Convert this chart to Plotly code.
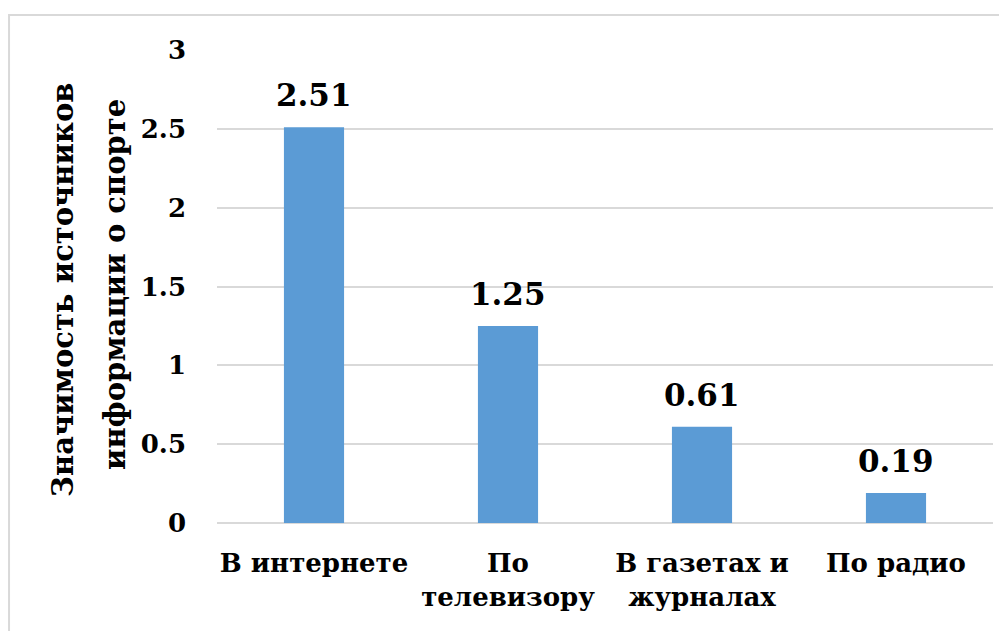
import plotly.graph_objects as go

categories = ["В интернете", "По<br>телевизору", "В газетах и<br>журналах", "По радио"]
values = [2.51, 1.25, 0.61, 0.19]
value_labels = ["2.51", "1.25", "0.61", "0.19"]
y_ticks = [0, 0.5, 1, 1.5, 2, 2.5, 3]
y_tick_labels = ["0", "0.5", "1", "1.5", "2", "2.5", "3"]
y_title_lines = ["Значимость источников", "информации о спорте"]

FONT = "DejaVu Serif"

fig = go.Figure(go.Bar(
    x=categories, y=values,
    marker=dict(color="#5B9BD5", line=dict(width=0)),
    width=0.31, hoverinfo="x+y",
))

annotations = [
    dict(text="<b>" + lbl + "</b>", x=c, y=v, xref="x", yref="y", showarrow=False,
         xanchor="center", yanchor="bottom", yshift=12,
         font=dict(family=FONT, size=31, color="black"))
    for c, v, lbl in zip(categories, values, value_labels)
]
annotations += [
    dict(text="<b>" + y_title_lines[0] + "</b>", xref="paper", yref="paper", x=-0.1985, y=0.4926,
         textangle=-90, showarrow=False, xanchor="center", yanchor="middle",
         font=dict(family=FONT, size=29, color="black")),
    dict(text="<b>" + y_title_lines[1] + "</b>", xref="paper", yref="paper", x=-0.1314, y=0.503,
         textangle=-90, showarrow=False, xanchor="center", yanchor="middle",
         font=dict(family=FONT, size=29, color="black")),
]

fig.update_layout(
    width=1007, height=631,
    margin=dict(l=209, r=22, t=42, b=116),
    paper_bgcolor="white", plot_bgcolor="white",
    showlegend=False,
    font=dict(family=FONT, size=24, color="black"),
    xaxis=dict(tickvals=categories, ticktext=["<b>" + c + "</b>" for c in categories],
               tickfont=dict(family=FONT, size=26, color="black"), showgrid=False,
               showline=False, ticks="", ticklabelstandoff=22),
    yaxis=dict(range=[0, 3], tickvals=y_ticks, ticktext=["<b>" + t + "</b>" for t in y_tick_labels],
               tickfont=dict(family=FONT, size=26, color="black"),
               showgrid=True, gridcolor="#d9d9d9", gridwidth=1.5,
               zeroline=True, zerolinecolor="#d9d9d9", zerolinewidth=1.5,
               ticks="", ticklabelstandoff=30),
    shapes=[dict(type="rect", xref="paper", yref="paper", x0=-0.268, x1=1.009, y0=-0.4, y1=1.074,
                 line=dict(color="#d9d9d9", width=2), fillcolor="rgba(0,0,0,0)", layer="below")],
    annotations=annotations,
)

fig.write_html("out.html")
